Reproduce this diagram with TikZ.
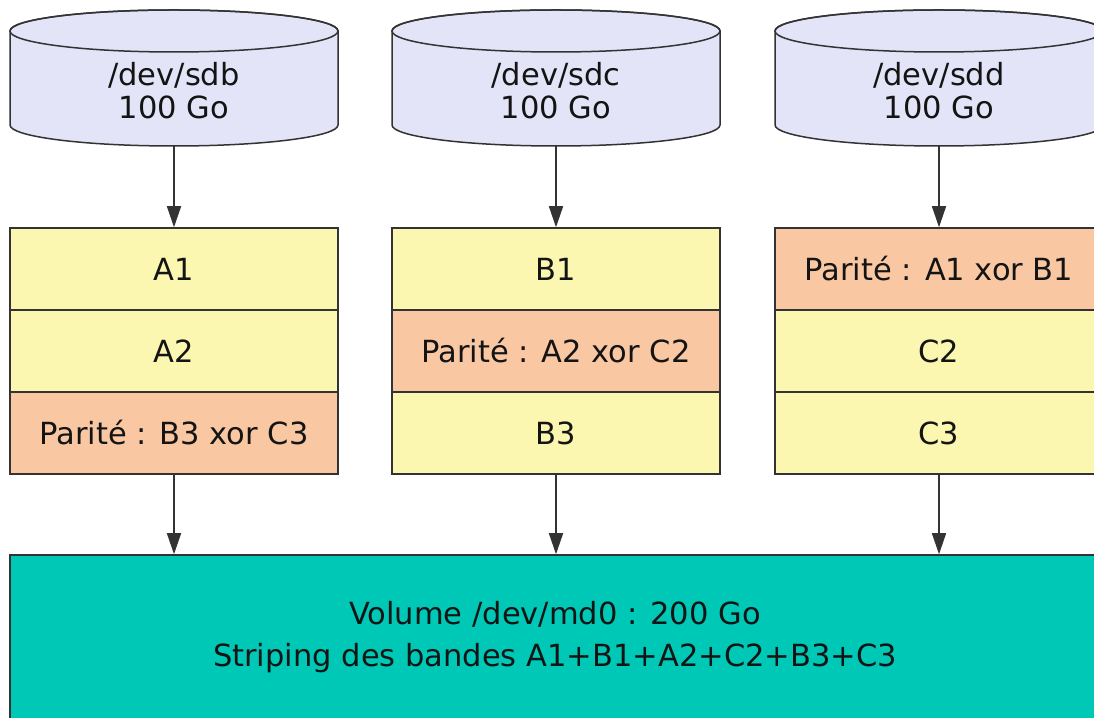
\documentclass[tikz,border=0pt]{standalone}
\usepackage{fontspec}
\setmainfont{DejaVu Sans}
\usetikzlibrary{arrows.meta}
\definecolor{cylfill}{HTML}{E4E4F8}
\definecolor{yel}{HTML}{FCF7B0}
\definecolor{peach}{HTML}{F9C8A3}
\definecolor{teal2}{HTML}{00C8B7}
\definecolor{edge}{HTML}{333333}
\tikzset{
  cylbody/.style={fill=cylfill, draw=edge, line width=1.5pt},
  cyltext/.style={align=center, font=\fontsize{30.5}{33}\selectfont, text=black!92},
  row/.style={draw=edge, line width=1.5pt, minimum width=328pt, minimum height=82pt, inner sep=0pt,
              font=\fontsize{30.5}{33}\selectfont, text=black!92},
  data/.style={row, fill=yel},
  parity/.style={row, fill=peach},
  volbox/.style={draw=edge, line width=1.5pt, fill=teal2, minimum width=1090pt, minimum height=165pt,
              align=center, font=\fontsize{30.5}{42}\selectfont, text=black!92},
  arr/.style={draw=edge, line width=1.5pt, -{Triangle[length=21pt,width=14pt]}},
}
\newcommand{\mycyl}[3]{%
  \path[cylbody] (#1-164,686) -- (#1-164,592) arc[start angle=180, end angle=360, x radius=164pt, y radius=21pt]
     -- (#1+164,686) arc[start angle=0, end angle=180, x radius=164pt, y radius=21pt] -- cycle;
  \draw[draw=edge, line width=1.5pt] (#1,686) ellipse[x radius=164pt, y radius=21pt];
  \node[cyltext] (#2) at (#1,626) {#3};
  \coordinate (#2bot) at (#1,571);
}
\begin{document}
\begin{tikzpicture}[x=1pt,y=1pt]
\useasboundingbox (0,0) rectangle (1094,717);
\clip (0,0) rectangle (1094,717);
\fill[white] (0,0) rectangle (1094,717);

\mycyl{174}{sdb}{/dev/sdb\\100 Go}
\mycyl{556}{sdc}{/dev/sdc\\100 Go}
\mycyl{939}{sdd}{/dev/sdd\\100 Go}

% column sdb
\node[data]   (a1) at (174,448) {A1};
\node[data]   (a2) at (174,366) {A2};
\node[parity] (pb) at (174,284) {Parité : B3 xor C3};
% column sdc
\node[data]   (b1) at (556,448) {B1};
\node[parity] (pa) at (556,366) {Parité : A2 xor C2};
\node[data]   (b3) at (556,284) {B3};
% column sdd
\node[parity] (pc) at (939,448) {Parité : A1 xor B1};
\node[data]   (c2) at (939,366) {C2};
\node[data]   (c3) at (939,284) {C3};

\node[volbox] (vol) at (555,79.5) {Volume /dev/md0 : 200 Go\\Striping des bandes A1+B1+A2+C2+B3+C3};

\draw[arr] (sdbbot) -- (a1.north);
\draw[arr] (sdcbot) -- (b1.north);
\draw[arr] (sddbot) -- (pc.north);
\draw[arr] (pb.south) -- (pb.south |- vol.north);
\draw[arr] (b3.south) -- (b3.south |- vol.north);
\draw[arr] (c3.south) -- (c3.south |- vol.north);
\end{tikzpicture}
\end{document}
